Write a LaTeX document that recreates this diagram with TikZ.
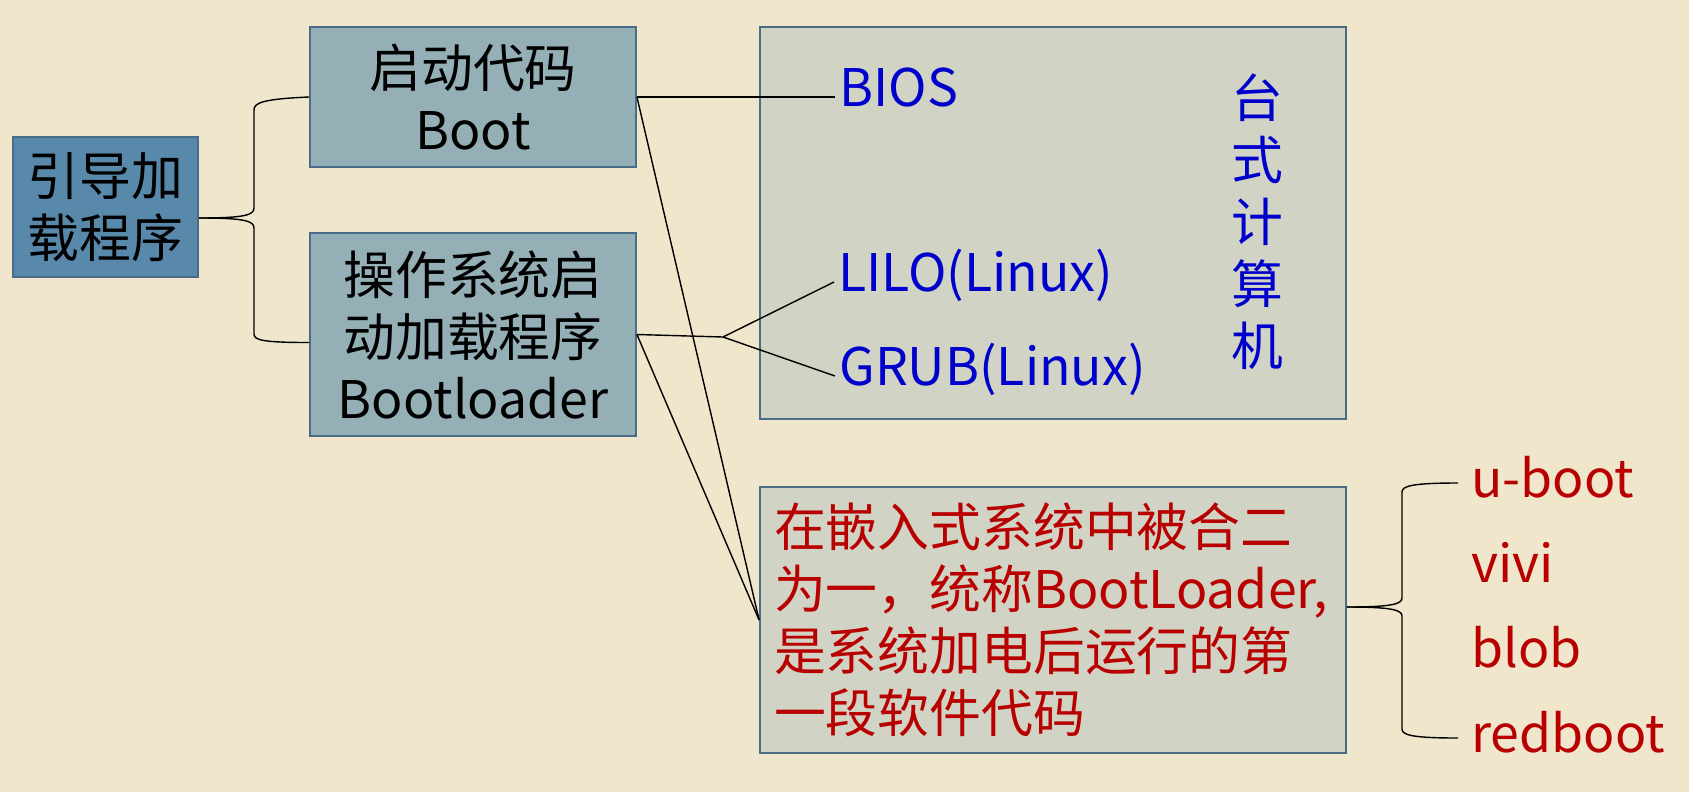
\documentclass[tikz,border=0pt]{standalone}
\usepackage{fontspec}
\setmainfont{Noto Sans CJK SC}
\usepackage{xcolor}
\usepackage{tikz}

\definecolor{bgcol}{HTML}{F0E6CC}
\definecolor{rootfill}{HTML}{5889AB}
\definecolor{bootfill}{HTML}{94B0B6}
\definecolor{pcfill}{HTML}{D1D3C4}
\definecolor{edgecol}{HTML}{4A6D87}
\definecolor{bluetxt}{HTML}{0000CC}
\definecolor{redtxt}{HTML}{B80000}

\begin{document}
\begin{tikzpicture}[
        x=0.02cm, y=-0.02cm,
        font=\fontsize{29.5}{35.3}\selectfont,
        box/.style={rectangle, draw=edgecol, line width=1.1pt, align=center, inner sep=0pt},
        link/.style={black, line width=0.8pt},
        bluetext/.style={text=bluetxt, anchor=west, inner xsep=0.08cm, inner ysep=0pt, text height=20pt, text depth=8.7pt},
        redtext/.style={text=redtxt, anchor=west, inner xsep=0.26cm, inner ysep=0pt, text height=22pt, text depth=5.6pt}
    ]
        \useasboundingbox (0,0) rectangle (1689,792);
        \fill[bgcol] (0,0) rectangle (1689,792);

        % Boxes
        \node[box, fill=rootfill, minimum width=3.7cm, minimum height=2.8cm] (root) at (105.5,207) {引导加\\载程序};
        \node[box, fill=bootfill, minimum width=6.52cm, minimum height=2.8cm] (boot) at (473,97) {启动代码\\Boot};
        \node[box, fill=bootfill, minimum width=6.52cm, minimum height=4.06cm] (loader) at (473,334.5) {操作系统启\\动加载程序\\Bootloader};
        \node[box, fill=pcfill, minimum width=11.72cm, minimum height=7.84cm] (desk) at (1053,223) {};
        \node[box, fill=pcfill, minimum width=11.72cm, minimum height=5.32cm, text=redtxt, align=left, text width=11.16cm, inner xsep=0.28cm] (embed) at (1053,620) {在嵌入式系统中被合二\\为一，统称BootLoader,\\是系统加电后运行的第\\一段软件代码};

        % Desktop loaders
        \node[text=bluetxt, align=center] (pcname) at (1257,222) {台\\式\\计\\算\\机};
        \node[bluetext] (bios) at (835,97) {BIOS};
        \node[bluetext] (lilo) at (834,282) {LILO(Linux)};
        \node[bluetext] (grub) at (835,376) {GRUB(Linux)};
        \coordinate (fork) at (723,337);

        % Embedded loaders
        \node[redtext] (uboot) at (1458,483) {u-boot};
        \node[redtext] (vivi) at (1458,568) {vivi};
        \node[redtext] (blob) at (1458,653) {blob};
        \node[redtext] (redboot) at (1458,738) {redboot};

        % Lines
        \draw[link] (boot.east) -- (bios.west);
        \draw[link] (boot.east) -- (embed.west);
        \draw[link] (loader.east) -- (fork);
        \draw[link] (fork) -- (lilo.west);
        \draw[link] (fork) -- (grub.west);
        \draw[link] (loader.east) -- (embed.west);

        % Braces
        \draw[link] ([yshift=-0.22cm]root.east) .. controls (245,218) and (254,215) .. (254,208) -- (254,110) .. controls (254,103) and (262,99) .. (boot.west);
        \draw[link] ([yshift=-0.22cm]root.east) .. controls (245,218) and (254,221) .. (254,228) -- (254,334) .. controls (254,340) and (262,342.5) .. ([yshift=-0.16cm]loader.west);
        \draw[link] ([yshift=0.26cm]embed.east) .. controls (1392,607) and (1402,604) .. (1402,598) -- (1402,492) .. controls (1402,486) and (1412,483) .. (uboot.west);
        \draw[link] ([yshift=0.26cm]embed.east) .. controls (1392,607) and (1402,610) .. (1402,616) -- (1402,729) .. controls (1402,735) and (1412,738) .. (redboot.west);

    \end{tikzpicture}
\end{document}
